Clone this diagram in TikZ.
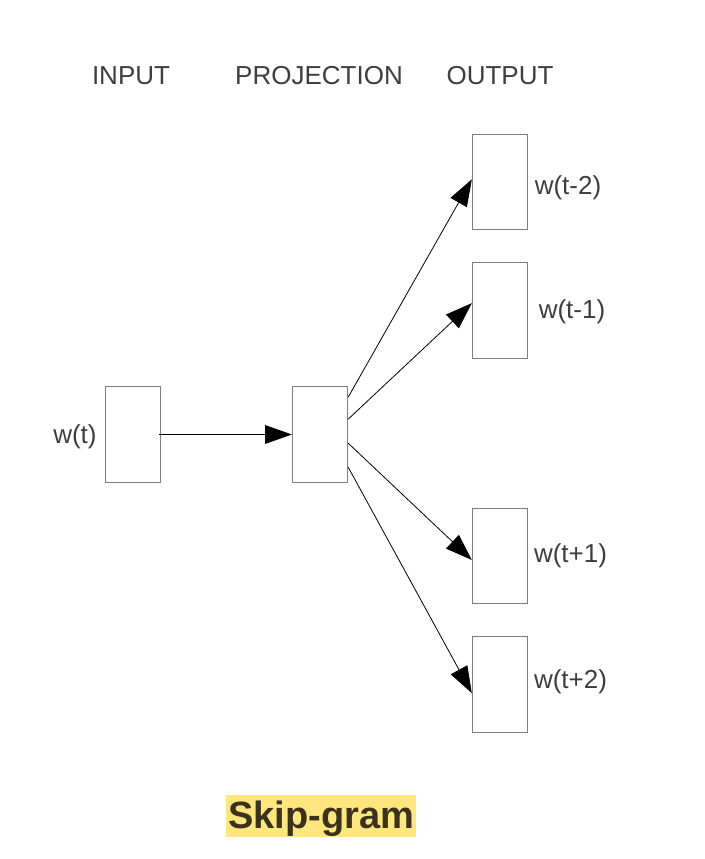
\documentclass[tikz,border=0pt]{standalone}
\usepackage{fontspec}
\setmainfont{Liberation Sans}
\usepackage{tikz}
\usetikzlibrary{arrows.meta, positioning, calc}
\definecolor{labelgray}{RGB}{62,62,62}
\definecolor{boxgray}{RGB}{128,128,128}
\definecolor{hlyellow}{RGB}{255,230,125}
\definecolor{hltext}{RGB}{58,50,30}

\begin{document}
\begin{tikzpicture}[
    x=0.75pt, y=-0.75pt,
    font=\fontsize{19.5}{23}\selectfont,
    layer/.style={draw=boxgray, line width=0.75pt, inner sep=0pt, minimum width=41.5pt, minimum height=71.5pt},
    lbl/.style={text=labelgray, inner sep=0pt},
    arrow/.style={-{Triangle[length=20pt, width=14pt]}, line width=0.6pt},
]
\useasboundingbox (0,0) rectangle (704,859);

% Column headers
\node[lbl] (hin) at (131, 76) {INPUT};
\node[lbl] (hproj) at (319, 76) {PROJECTION};
\node[lbl] (hout) at (500, 76) {OUTPUT};

% Input and projection layers
\node[layer] (in) at (133, 434.5) {};
\node[layer] (proj) at (320, 434.5) {};
\node[lbl, left=6pt of in, yshift=-2pt] (win) {w(t)};

% Output layers
\node[layer] (om2) at (500, 182) {};
\node[layer] (om1) at (500, 310.5) {};
\node[layer] (op1) at (500, 556) {};
\node[layer] (op2) at (500, 684.5) {};

\node[lbl] (wm2) at (568, 188) {w(t-2)};
\node[lbl] (wm1) at (572, 312) {w(t-1)};
\node[lbl] (wp1) at (570.5, 556) {w(t+1)};
\node[lbl] (wp2) at (570.5, 682) {w(t+2)};

% Connectors
\draw[arrow] ([xshift=-1.5pt]in.east) -- (proj.west);
\draw[arrow] ([yshift=28pt]proj.east) -- ([yshift=2pt]om2.west);
\draw[arrow] ([yshift=11.5pt]proj.east) -- ([yshift=5.5pt]om1.west);
\draw[arrow] ([yshift=-6.5pt]proj.east) -- ([yshift=-3pt]op1.west);
\draw[arrow] ([yshift=-24.5pt]proj.east) -- ([yshift=-6.5pt]op2.west);

% Title
\node[fill=hlyellow, text=hltext, inner sep=0pt, minimum width=142.5pt,
      text height=24.75pt, text depth=6.75pt,
      font=\fontsize{28.5}{32}\selectfont\bfseries] (title) at (321, 816) {Skip-gram};
\end{tikzpicture}
\end{document}
